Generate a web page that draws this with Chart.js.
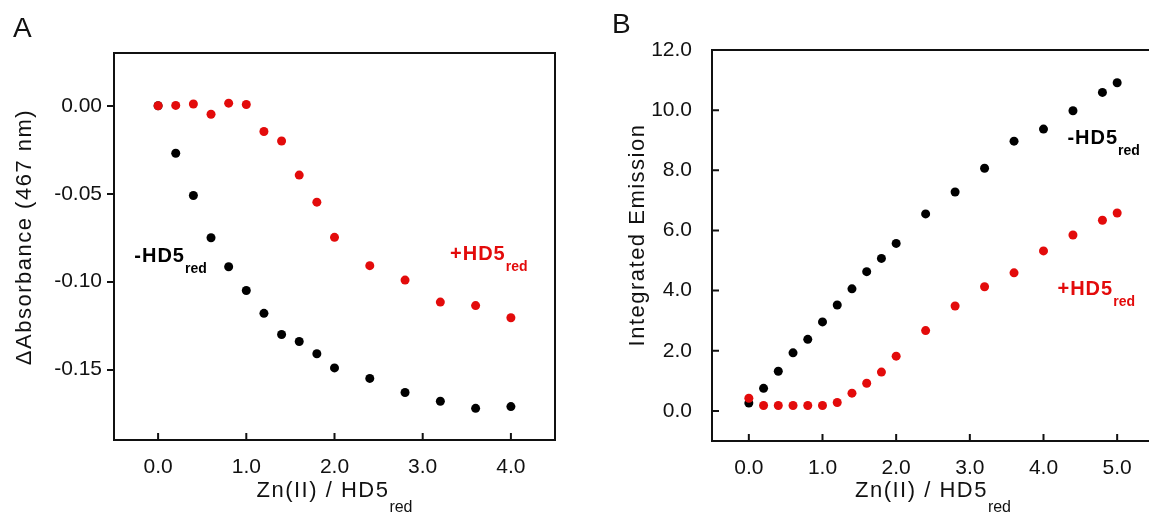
<!DOCTYPE html>
<html>
<head>
<meta charset="utf-8">
<script src="https://cdn.jsdelivr.net/npm/chart.js@4.4.1/dist/chart.umd.min.js"></script>
<style>
  html, body { margin: 0; padding: 0; background: #fff; width: 1149px; height: 514px; overflow: hidden; position: relative; }
  .panel { position: absolute; top: 0; height: 514px; }
  #wrapA { left: 0; width: 575px; }
  #wrapB { left: 600px; width: 570px; }
</style>
</head>
<body>
<div class="panel" id="wrapA"><canvas id="chartA"></canvas></div>
<div class="panel" id="wrapB"><canvas id="chartB"></canvas></div>
<script>
// panel A: absorbance titration
const xA = [0, 0.2, 0.4, 0.6, 0.8, 1.0, 1.2, 1.4, 1.6, 1.8, 2.0, 2.4, 2.8, 3.2, 3.6, 4.0]
const blackA = [0, -0.027, -0.051, -0.075, -0.0915, -0.105, -0.118, -0.130, -0.134, -0.141, -0.149, -0.155, -0.163, -0.168, -0.172, -0.171]
const redA = [0, 0.0002, 0.001, -0.0048, 0.0015, 0.0007, -0.0146, -0.020, -0.0394, -0.0548, -0.0748, -0.0909, -0.0991, -0.1116, -0.1136, -0.1205]
const xTicksA = [0, 1, 2, 3, 4]
const yTicksA = [0, -0.05, -0.10, -0.15]

// panel B: emission titration
const xB = [0, 0.2, 0.4, 0.6, 0.8, 1.0, 1.2, 1.4, 1.6, 1.8, 2.0, 2.4, 2.8, 3.2, 3.6, 4.0, 4.4, 4.8, 5.0]
const blackB = [0.26, 0.75, 1.32, 1.93, 2.38, 2.96, 3.52, 4.06, 4.63, 5.07, 5.57, 6.55, 7.28, 8.07, 8.97, 9.37, 9.98, 10.59, 10.91]
const redB = [0.42, 0.18, 0.18, 0.18, 0.18, 0.18, 0.28, 0.59, 0.92, 1.29, 1.82, 2.67, 3.49, 4.13, 4.59, 5.32, 5.85, 6.34, 6.58]
const xTicksB = [0, 1, 2, 3, 4, 5]
const yTicksB = [0, 2, 4, 6, 8, 10, 12]

const BLACK = '#000000'
const RED = '#e30b0b'
const TEXT = '#111111'
const FONT = "'Liberation Sans', Arial, Helvetica, sans-serif"

Chart.defaults.font.family = FONT
Chart.defaults.font.size = 21
Chart.defaults.color = TEXT

function toPoints(xs, ys) {
  return xs.map((x, i) => ({ x: x, y: ys[i] }))
}

// text with a smaller subscript after it
function drawSub(ctx, x, y, main, sub, mainFont, subFont, color, spacing, subDrop, align) {
  ctx.save()
  ctx.fillStyle = color
  ctx.textBaseline = 'alphabetic'
  ctx.textAlign = 'left'
  ctx.font = mainFont
  ctx.letterSpacing = spacing
  const w1 = ctx.measureText(main).width
  ctx.font = subFont
  ctx.letterSpacing = '0px'
  const w2 = ctx.measureText(sub).width
  let left = x
  if (align === 'center') left = x - (w1 + w2) / 2
  ctx.font = mainFont
  ctx.letterSpacing = spacing
  ctx.fillText(main, left, y)
  ctx.font = subFont
  ctx.letterSpacing = '0px'
  ctx.fillText(sub, left + w1, y + subDrop)
  ctx.restore()
}

function figurePlugin(opts) {
  return {
    id: 'figure' + opts.letter,
    afterDraw(chart) {
      const ctx = chart.ctx
      const area = chart.chartArea
      const xs = chart.scales.x
      const ys = chart.scales.y

      // frame
      ctx.save()
      ctx.strokeStyle = TEXT
      ctx.lineWidth = 2
      ctx.strokeRect(area.left, area.top, area.right - area.left, area.bottom - area.top)

      // inward tick marks
      ctx.beginPath()
      xs.ticks.forEach(t => {
        const px = xs.getPixelForValue(t.value)
        ctx.moveTo(px, area.bottom)
        ctx.lineTo(px, area.bottom - 7)
      })
      if (opts.yInward) {
        ys.ticks.forEach(t => {
          const py = ys.getPixelForValue(t.value)
          ctx.moveTo(area.left, py)
          ctx.lineTo(area.left + 7, py)
        })
      }
      ctx.stroke()
      ctx.restore()

      // panel letter
      ctx.save()
      ctx.fillStyle = TEXT
      ctx.font = '28px ' + FONT
      ctx.textBaseline = 'alphabetic'
      ctx.fillText(opts.letter, opts.letterX, opts.letterY)
      ctx.restore()

      // y title
      ctx.save()
      ctx.fillStyle = TEXT
      ctx.font = '22px ' + FONT
      ctx.letterSpacing = '1.5px'
      ctx.textAlign = 'center'
      ctx.textBaseline = 'middle'
      ctx.translate(opts.yTitleX, opts.yTitleY)
      ctx.rotate(-Math.PI / 2)
      ctx.fillText(opts.yTitle, 0, 0)
      ctx.restore()

      // x title with subscript
      drawSub(ctx, (area.left + area.right) / 2, 497, 'Zn(II) / HD5', 'red',
        '22px ' + FONT, '16px ' + FONT, TEXT, '1.5px', 15, 'center')

      // series labels
      opts.notes.forEach(n => {
        drawSub(ctx, xs.getPixelForValue(n.x), ys.getPixelForValue(n.y), n.main, 'red',
          'bold 20px ' + FONT, 'bold 14px ' + FONT, n.color, '1px', 11, 'left')
      })
    }
  }
}

function makeChart(id, cfg) {
  const ctx = document.getElementById(id).getContext('2d')
  return new Chart(ctx, {
    type: 'scatter',
    data: {
      datasets: [
        {
          label: '+HD5red',
          data: toPoints(cfg.xs, cfg.red),
          backgroundColor: RED,
          borderColor: RED,
          pointRadius: 4.5,
          pointBorderWidth: 0
        },
        {
          label: '-HD5red',
          data: toPoints(cfg.xs, cfg.black),
          backgroundColor: BLACK,
          borderColor: BLACK,
          pointRadius: 4.5,
          pointBorderWidth: 0
        }
      ]
    },
    options: {
      responsive: true,
      maintainAspectRatio: false,
      animation: false,
      layout: { padding: cfg.padding },
      plugins: {
        legend: { display: false },
        tooltip: { enabled: false }
      },
      scales: {
        x: {
          type: 'linear',
          min: cfg.xMin,
          max: cfg.xMax,
          afterBuildTicks: s => { s.ticks = cfg.xTicks.map(v => ({ value: v })) },
          afterFit: s => { s.height = cfg.xHeight },
          grid: { display: false },
          border: { display: false },
          ticks: {
            padding: 7,
            maxRotation: 0,
            autoSkip: false,
            callback: v => v.toFixed(1)
          }
        },
        y: {
          type: 'linear',
          min: cfg.yMin,
          max: cfg.yMax,
          afterBuildTicks: s => { s.ticks = cfg.yTicks.map(v => ({ value: v })) },
          afterFit: s => { s.width = cfg.yWidth },
          grid: cfg.yInward
            ? { display: false }
            : { display: true, drawOnChartArea: false, drawTicks: true, tickLength: 7, color: TEXT, lineWidth: 2 },
          border: { display: false },
          ticks: {
            padding: cfg.yInward ? 12 : 5,
            autoSkip: false,
            callback: v => v.toFixed(cfg.yDigits)
          }
        }
      }
    },
    plugins: [figurePlugin(cfg.fig)]
  })
}

makeChart('chartA', {
  xs: xA, black: blackA, red: redA,
  xMin: -0.5, xMax: 4.5, yMin: -0.19, yMax: 0.03,
  xTicks: xTicksA, yTicks: yTicksA, yDigits: 2,
  padding: { top: 53, right: 20, bottom: 0, left: 0 },
  xHeight: 74, yWidth: 114, yInward: false,
  fig: {
    letter: 'A', letterX: 13, letterY: 37,
    yTitle: '\u0394Absorbance (467 nm)', yTitleX: 25, yTitleY: 237, yInward: false,
    notes: [
      { main: '-HD5', x: -0.27, y: -0.0889, color: BLACK },
      { main: '+HD5', x: 3.31, y: -0.0879, color: RED }
    ]
  }
})

makeChart('chartB', {
  xs: xB, black: blackB, red: redB,
  xMin: -0.5, xMax: 5.5, yMin: -1, yMax: 12,
  xTicks: xTicksB, yTicks: yTicksB, yDigits: 1,
  padding: { top: 50, right: 16, bottom: 0, left: 0 },
  xHeight: 73, yWidth: 112, yInward: true,
  fig: {
    letter: 'B', letterX: 12, letterY: 33,
    yTitle: 'Integrated Emission', yTitleX: 38, yTitleY: 235, yInward: true,
    notes: [
      { main: '-HD5', x: 4.325, y: 8.87, color: BLACK },
      { main: '+HD5', x: 4.19, y: 3.86, color: RED }
    ]
  }
})
</script>
</body>
</html>
